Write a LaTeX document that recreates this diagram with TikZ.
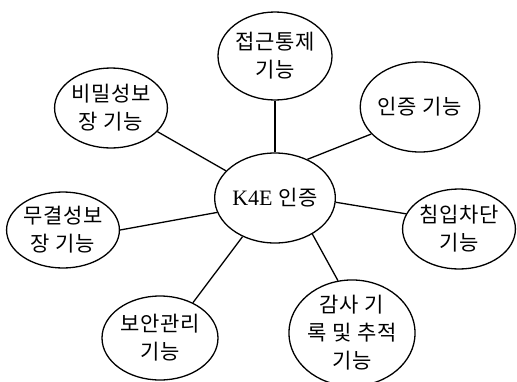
\documentclass[tikz,border=0pt]{standalone}
\usepackage{fontspec}
\setmainfont{Liberation Serif}
\newfontfamily\kr{Noto Sans CJK KR}[LetterSpace=4]
\usetikzlibrary{shapes.geometric}
\begin{document}
\begin{tikzpicture}[x=1pt,y=-1pt,
  bubble/.style={draw=black,line width=1.3pt,ellipse,inner sep=0pt,align=center,
    font=\kr\fontsize{21}{28}\selectfont},
  link/.style={draw=black,line width=1.3pt}]
\useasboundingbox (0,0) rectangle (517,381);
\node[bubble,minimum width=110pt,minimum height=90pt] (c) at (275,198)
  {{\rmfamily\fontsize{22}{28}\selectfont K4E} 인증};
\node[bubble,minimum width=114pt,minimum height=88pt] (a) at (275,56) {접근통제\\기능};
\node[bubble,minimum width=112pt,minimum height=80pt] (b) at (111,108) {비밀성보\\장 기능};
\node[bubble,minimum width=106pt,minimum height=90pt] (d) at (420,107) {인증 기능};
\node[bubble,minimum width=106pt,minimum height=80pt] (e) at (459,229) {침입차단\\기능};
\node[bubble,minimum width=112pt,minimum height=89pt] (f) at (352,333) {감사 기\\록 및 추적\\기능};
\node[bubble,minimum width=116pt,minimum height=84pt] (g) at (160,338) {보안관리\\기능};
\node[bubble,minimum width=110pt,minimum height=76pt] (h) at (63,230) {무결성보\\장 기능};
\draw[link] (c.90) -- (a.-90);
\draw[link] (c.151.6) -- (b.-27.5);
\draw[link] (c.50.8) -- (d.209);
\draw[link] (c.-4) -- (e.164);
\draw[link] (c.-44) -- (f.105);
\draw[link] (c.230.6) -- (g.47.7);
\draw[link] (c.194) -- (h.0);
\end{tikzpicture}
\end{document}
